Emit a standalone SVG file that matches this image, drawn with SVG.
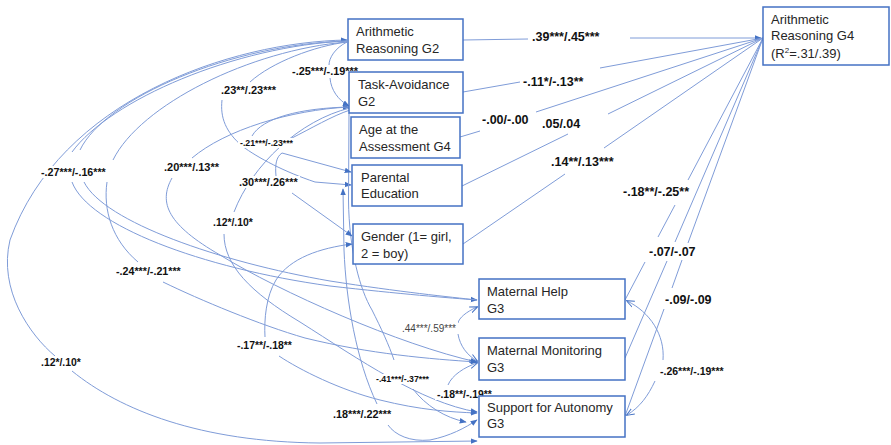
<svg xmlns="http://www.w3.org/2000/svg" width="891" height="445" viewBox="0 0 891 445">
<style>
.box{fill:#fff;stroke:#4472C4;stroke-width:1.5}
.nt{font-family:"Liberation Sans",Arial,sans-serif;font-size:13px;fill:#262626}
.lb{font-family:"Liberation Sans",Arial,sans-serif;font-weight:bold;fill:#111}
.bg{fill:#fff}
#connectors path{fill:none;stroke:#7F9CD8;stroke-width:1}
</style>
<defs>
<marker id="a" viewBox="0 0 10 10" refX="9" refY="5" markerWidth="7" markerHeight="7" markerUnits="userSpaceOnUse" orient="auto-start-reverse"><path d="M0,1 L10,5 L0,9 z" fill="#4472C4"/></marker>
<marker id="o" viewBox="0 0 10 10" refX="9" refY="5" markerWidth="8" markerHeight="8" markerUnits="userSpaceOnUse" orient="auto-start-reverse"><path d="M0,1 L10,5 L0,9" fill="none" stroke="#4472C4" stroke-width="1.2"/></marker>
</defs>
<rect width="891" height="445" fill="#fff"/>
<g id="connectors">
<path d="M463,40 L528,39 M630,38 L761,38" marker-end="url(#a)"/>
<path d="M463,92 L520,82 M600,68 L763,38"/>
<path d="M460,137 L480,131 M536,112 L763,38"/>
<path d="M462,186 L568,134 M608,114 L763,38"/>
<path d="M463,244 L565,174 M604,148 L763,38"/>
<path d="M625,300 L645,262 M658,237 L675,205 M688,180 L763,38"/>
<path d="M625,358 L667,261 M675,242 L763,38"/>
<path d="M625,416 L664,309 M672,288 L682,260 M688,243 L763,38"/>
<path d="M663,360 C665,335 650,312 627,301" marker-end="url(#o)"/>
<path d="M655,381 C648,396 640,407 627,415" marker-end="url(#o)"/>
<path d="M347,40 C230,42 60,100 10,240 C-2,290 30,335 55,356 M72,371 C120,410 200,442 320,443 L477,441" marker-start="url(#a)" marker-end="url(#a)"/>
<path d="M347,41 C235,46 110,100 72,152 M72,182 C88,225 200,268 330,286 C400,294 450,298 477,300" marker-end="url(#a)"/>
<path d="M347,41 C232,44 105,98 80,150 M84,182 C104,222 220,262 330,281 C400,292 450,297 477,300"/>
<path d="M347,42 C250,50 140,105 113,160 M107,182 C103,210 112,240 138,262 M163,282 C200,300 260,325 305,338 C370,354 430,359 477,362" marker-end="url(#a)"/>
<path d="M347,42 C315,46 272,62 250,82 M222,100 C220,118 226,132 242,146 C258,158 285,172 315,182 L351,185" marker-end="url(#a)"/>
<path d="M347,42 C335,48 329,58 329,65 M330,78 C331,90 338,100 349,106" marker-end="url(#a)"/>
<path d="M349,107 C290,110 225,130 192,158 M172,178 C158,203 168,225 220,255 C280,292 400,345 477,362" marker-start="url(#a)" marker-end="url(#a)"/>
<path d="M350,108 C300,120 252,165 234,212 M224,234 C224,265 250,292 300,322 C360,360 420,402 477,412" marker-end="url(#a)"/>
<path d="M349,113 L348.5,200 C349,250 360,290 372,310 C381,328 389,345 394,360 M413,389 C425,405 445,418 466,422" marker-end="url(#a)"/>
<path d="M350,107 C300,108 262,118 252,136"/>
<path d="M290,139 C312,128 332,116 350,110"/>
<path d="M351,172 L282,153 C276,157 275,165 276,176 M292,193 L352,236" marker-start="url(#a)" marker-end="url(#a)"/>
<path d="M352,244 C320,248 290,258 276,280 C266,296 264,320 265,337 M279,356 C300,370 340,390 380,400 C420,410 450,412 477,413" marker-start="url(#a)" marker-end="url(#a)"/>
<path d="M343,189 L344,250 C346,300 356,360 377,404 M388,425 C395,435 410,442 430,440 C450,436 465,428 477,420" marker-start="url(#a)" marker-end="url(#a)"/>
<path d="M477,307 C466,312 459,318 458,323 M458,334 C460,346 467,355 477,361" marker-start="url(#o)" marker-end="url(#o)"/>
<path d="M477,363 C465,367 452,375 448,385" marker-start="url(#o)"/>
</g>
<g id="labels">
<rect class="bg" x="530" y="30" width="71" height="14"/><text class="lb" x="532" y="41" font-size="12.5">.39***/.45***</text>
<rect class="bg" x="521" y="75" width="65" height="14"/><text class="lb" x="523" y="86" font-size="12.5">-.11*/-.13**</text>
<rect class="bg" x="480" y="113" width="50" height="14"/><text class="lb" x="482" y="124" font-size="12.5">-.00/-.00</text>
<rect class="bg" x="540" y="117" width="42" height="14"/><text class="lb" x="542" y="128" font-size="12.5">.05/.04</text>
<rect class="bg" x="549" y="155" width="66" height="14"/><text class="lb" x="551" y="166" font-size="12.5">.14**/.13***</text>
<rect class="bg" x="621" y="185" width="70" height="14"/><text class="lb" x="623" y="196" font-size="12.5">-.18**/-.25**</text>
<rect class="bg" x="647" y="245" width="50" height="14"/><text class="lb" x="649" y="256" font-size="12.5">-.07/-.07</text>
<rect class="bg" x="663" y="293" width="50" height="14"/><text class="lb" x="665" y="304" font-size="12.5">-.09/-.09</text>
<rect class="bg" x="658" y="365" width="68" height="12"/><text class="lb" x="660" y="375" font-size="10.5">-.26***/-.19***</text>
<rect class="bg" x="400" y="322" width="58" height="12"/><text x="402" y="332" font-size="10" font-family="Liberation Sans, Arial, sans-serif" fill="#444">.44***/.59***</text>
<rect class="bg" x="374" y="374" width="57" height="10"/><text class="lb" x="376" y="382" font-size="8.75">-.41***/-.37***</text>
<rect class="bg" x="435" y="388" width="59" height="12"/><text class="lb" x="437" y="398" font-size="10.4">-.18**/-.19**</text>
<rect class="bg" x="331" y="408" width="62" height="12"/><text class="lb" x="333" y="418" font-size="10.8">.18***/.22***</text>
<rect class="bg" x="235" y="339" width="59" height="12"/><text class="lb" x="237" y="349" font-size="10.4">-.17**/-.18**</text>
<rect class="bg" x="114" y="265" width="69" height="12"/><text class="lb" x="116" y="275" font-size="10.7">-.24***/-.21***</text>
<rect class="bg" x="39" y="356" width="44" height="12"/><text class="lb" x="41" y="366" font-size="10.4">.12*/.10*</text>
<rect class="bg" x="39" y="166" width="69" height="12"/><text class="lb" x="41" y="176" font-size="10.7">-.27***/-.16***</text>
<rect class="bg" x="162" y="161" width="59" height="12"/><text class="lb" x="164" y="171" font-size="11">.20***/.13**</text>
<rect class="bg" x="219" y="84" width="59" height="12"/><text class="lb" x="221" y="94" font-size="11">.23**/.23***</text>
<rect class="bg" x="290" y="65" width="70" height="12"/><text class="lb" x="292" y="75" font-size="10.9">-.25***/-.19***</text>
<rect class="bg" x="238" y="138" width="57" height="10"/><text class="lb" x="240" y="146" font-size="8.75">-.21***/-.23***</text>
<rect class="bg" x="237" y="176" width="63" height="12"/><text class="lb" x="239" y="186" font-size="10.9">.30***/.26***</text>
<rect class="bg" x="211" y="216" width="44" height="12"/><text class="lb" x="213" y="226" font-size="10.4">.12*/.10*</text>
</g>
<g id="ar_g2"><rect class="box" x="348" y="19" width="115" height="41"/><text class="nt" x="356" y="36">Arithmetic</text><text class="nt" x="356" y="53">Reasoning G2</text></g>
<g id="ta_g2"><rect class="box" x="349" y="72" width="114" height="41"/><text class="nt" x="358" y="89">Task-Avoidance</text><text class="nt" x="358" y="106">G2</text></g>
<g id="age_g4"><rect class="box" x="351" y="117" width="109" height="41"/><text class="nt" x="359" y="134">Age at the</text><text class="nt" x="359" y="151">Assessment G4</text></g>
<g id="parent_edu"><rect class="box" x="352" y="165" width="110" height="41"/><text class="nt" x="361" y="182">Parental</text><text class="nt" x="361" y="198">Education</text></g>
<g id="gender"><rect class="box" x="353" y="224" width="110" height="40"/><text class="nt" x="361" y="241">Gender (1= girl,</text><text class="nt" x="361" y="258">2 = boy)</text></g>
<g id="mat_help"><rect class="box" x="479" y="279" width="146" height="40"/><text class="nt" x="487" y="296">Maternal Help</text><text class="nt" x="487" y="313">G3</text></g>
<g id="mat_mon"><rect class="box" x="479" y="338" width="146" height="42"/><text class="nt" x="487" y="355">Maternal Monitoring</text><text class="nt" x="487" y="372">G3</text></g>
<g id="support_aut"><rect class="box" x="479" y="396" width="146" height="41"/><text class="nt" x="487" y="412">Support for Autonomy</text><text class="nt" x="487" y="428">G3</text></g>
<g id="ar_g4"><rect class="box" x="763" y="7" width="126" height="58"/><text class="nt" x="771" y="24">Arithmetic</text><text class="nt" x="771" y="40">Reasoning G4</text><text class="nt" x="771" y="58">(R<tspan font-size="8" dy="-5">2</tspan><tspan dy="5">=.31/.39)</tspan></text></g>
</svg>
